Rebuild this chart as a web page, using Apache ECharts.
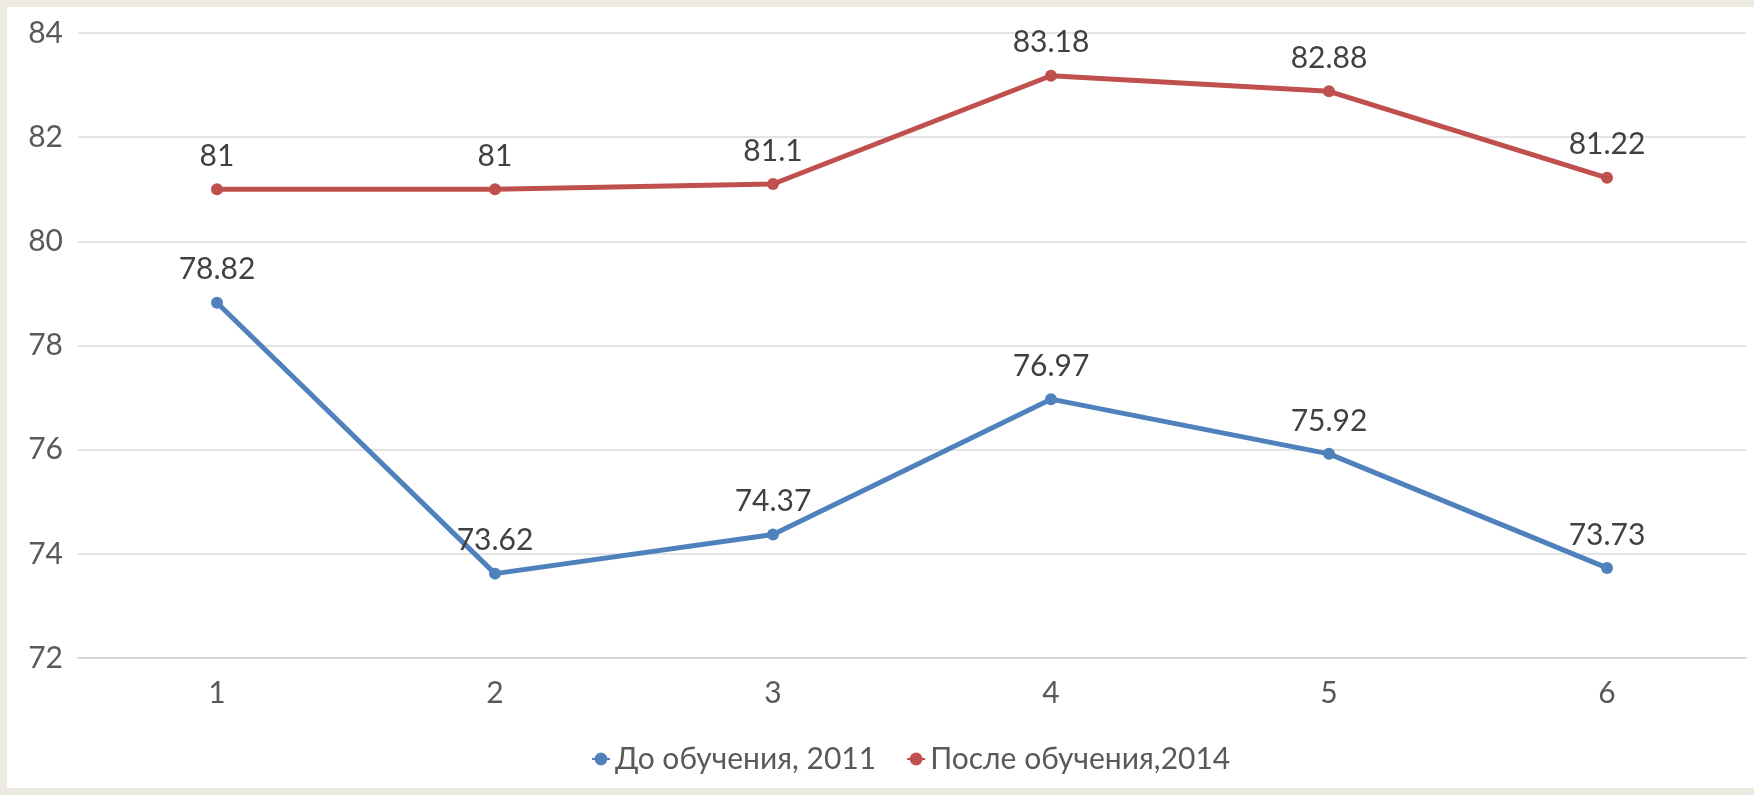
<!DOCTYPE html>
<html>
<head>
<meta charset="utf-8">
<script src="https://cdn.jsdelivr.net/npm/echarts@6/dist/echarts.min.js"></script>
<style>
  html, body { margin: 0; padding: 0; background: #EDEAE1; }
  #panel { position: absolute; left: 7px; top: 7px; width: 1747px; height: 781px; background: #ffffff; }
  #chart { position: absolute; left: 0; top: 0; width: 1754px; height: 795px; }
</style>
</head>
<body>
<div id="panel"></div>
<div id="chart"></div>
<script>
const categories = ['1', '2', '3', '4', '5', '6'];
const seriesNames = ['До обучения, 2011', 'После обучения,2014'];
const before2011 = [78.82, 73.62, 74.37, 76.97, 75.92, 73.73];
const after2014 = [81, 81, 81.1, 83.18, 82.88, 81.22];
const yTicks = { min: 72, max: 84, interval: 2 };

const font = 'Lato, "Open Sans", "Liberation Sans", sans-serif';
const chart = echarts.init(document.getElementById('chart'), null, { renderer: 'canvas' });

function lineSeries(name, data, color) {
  return {
    name: name,
    type: 'line',
    data: data,
    symbol: 'circle',
    symbolSize: 12,
    lineStyle: { color: color, width: 5 },
    itemStyle: { color: color },
    label: {
      show: true,
      position: 'top',
      distance: 12,
      color: '#404040',
      fontFamily: font,
      fontSize: 30
    },
    emphasis: { disabled: true },
    animation: false
  };
}

chart.setOption({
  backgroundColor: 'transparent',
  animation: false,
  grid: { left: 78, right: 8, top: 33, bottom: 137 },
  legend: {
    bottom: 16,
    left: 586,
    itemWidth: 18,
    itemHeight: 16,
    itemGap: 30,
    textStyle: { color: '#595959', fontFamily: font, fontSize: 30 },
    data: seriesNames
  },
  xAxis: {
    type: 'category',
    data: categories,
    boundaryGap: true,
    axisLine: { show: true, lineStyle: { color: '#D6D6D6', width: 2 } },
    axisTick: { show: false },
    axisLabel: { color: '#595959', fontFamily: font, fontSize: 30, margin: 20 }
  },
  yAxis: {
    type: 'value',
    min: yTicks.min,
    max: yTicks.max,
    interval: yTicks.interval,
    axisLine: { show: false },
    axisTick: { show: false },
    axisLabel: { color: '#595959', fontFamily: font, fontSize: 30, margin: 15 },
    splitLine: { lineStyle: { color: '#E4E4E4', width: 2 } }
  },
  color: ['#4F81BD', '#C0504D'],
  series: [
    lineSeries(seriesNames[0], before2011, '#4F81BD'),
    lineSeries(seriesNames[1], after2014, '#C0504D')
  ]
});
</script>
</body>
</html>
